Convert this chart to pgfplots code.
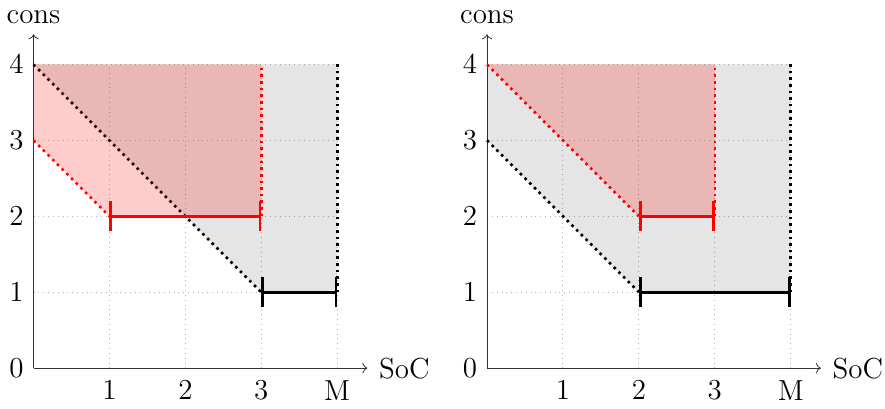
\documentclass[border=0pt]{standalone}
\usepackage{pgfplots}
\pgfplotsset{compat=1.18}
\usetikzlibrary{arrows.meta}
\pgfplotsset{
  myax/.style={
    x=37.75pt, y=37.75pt,
    xmin=0, xmax=4, ymin=0, ymax=4,
    axis lines=left,
    axis line style={->, shorten >=-15pt, black!80},
    xtick={1,2,3,4}, xticklabels={1,2,3,M},
    ytick={0,1,2,3,4},
    major tick length=0pt,
    tick label style={font=\Large},
    yticklabel style={xshift=-1.5pt},
    xticklabel style={inner ysep=4pt, yshift=-2pt},
    label style={font=\Large},
    grid=major,
    grid style={dotted, black!30, line width=0.5pt},
    xlabel={SoC}, ylabel={cons},
    xlabel style={at={(axis description cs:1.1,0)}, anchor=west, inner sep=1pt, xshift=4.5pt},
    ylabel style={at={(axis description cs:0,1.1)}, anchor=south, rotate=-90, inner ysep=5.5pt, yshift=-0.8pt},
    clip=false,
  },
  dline/.style={dotted, line width=1.3pt},
  seg/.style={line width=1.3pt, {Bar[width=15pt,line width=1.3pt]}-{Bar[width=15pt,line width=1.3pt]}},
}
\begin{document}
\begin{tikzpicture}
\begin{axis}[myax]
  \addplot[draw=none, fill=black, fill opacity=0.1] coordinates {(0,4) (3,1) (4,1) (4,4)} -- cycle;
  \addplot[black, dline] coordinates {(0,4) (3,1)};
  \addplot[black, dline] coordinates {(4,1) (4,4)};
  \addplot[draw=none, fill=red, fill opacity=0.2] coordinates {(0,3) (1,2) (3,2) (3,4) (0,4)} -- cycle;
  \addplot[red, dline] coordinates {(0,3) (1,2)};
  \addplot[red, dline] coordinates {(3,2) (3,4)};
  \addplot[black, seg] coordinates {(3,1) (4,1)};
  \addplot[red, seg] coordinates {(1,2) (3,2)};
\end{axis}
\begin{axis}[myax, at={(225.5pt,0)}]
  \addplot[draw=none, fill=black, fill opacity=0.1] coordinates {(0,3) (2,1) (4,1) (4,4) (0,4)} -- cycle;
  \addplot[black, dline] coordinates {(0,3) (2,1)};
  \addplot[black, dline] coordinates {(4,1) (4,4)};
  \addplot[draw=none, fill=red, fill opacity=0.2] coordinates {(0,4) (2,2) (3,2) (3,4)} -- cycle;
  \addplot[red, dline] coordinates {(0,4) (2,2)};
  \addplot[red, dline] coordinates {(3,2) (3,4)};
  \addplot[black, seg] coordinates {(2,1) (4,1)};
  \addplot[red, seg] coordinates {(2,2) (3,2)};
\end{axis}
\end{tikzpicture}
\end{document}
